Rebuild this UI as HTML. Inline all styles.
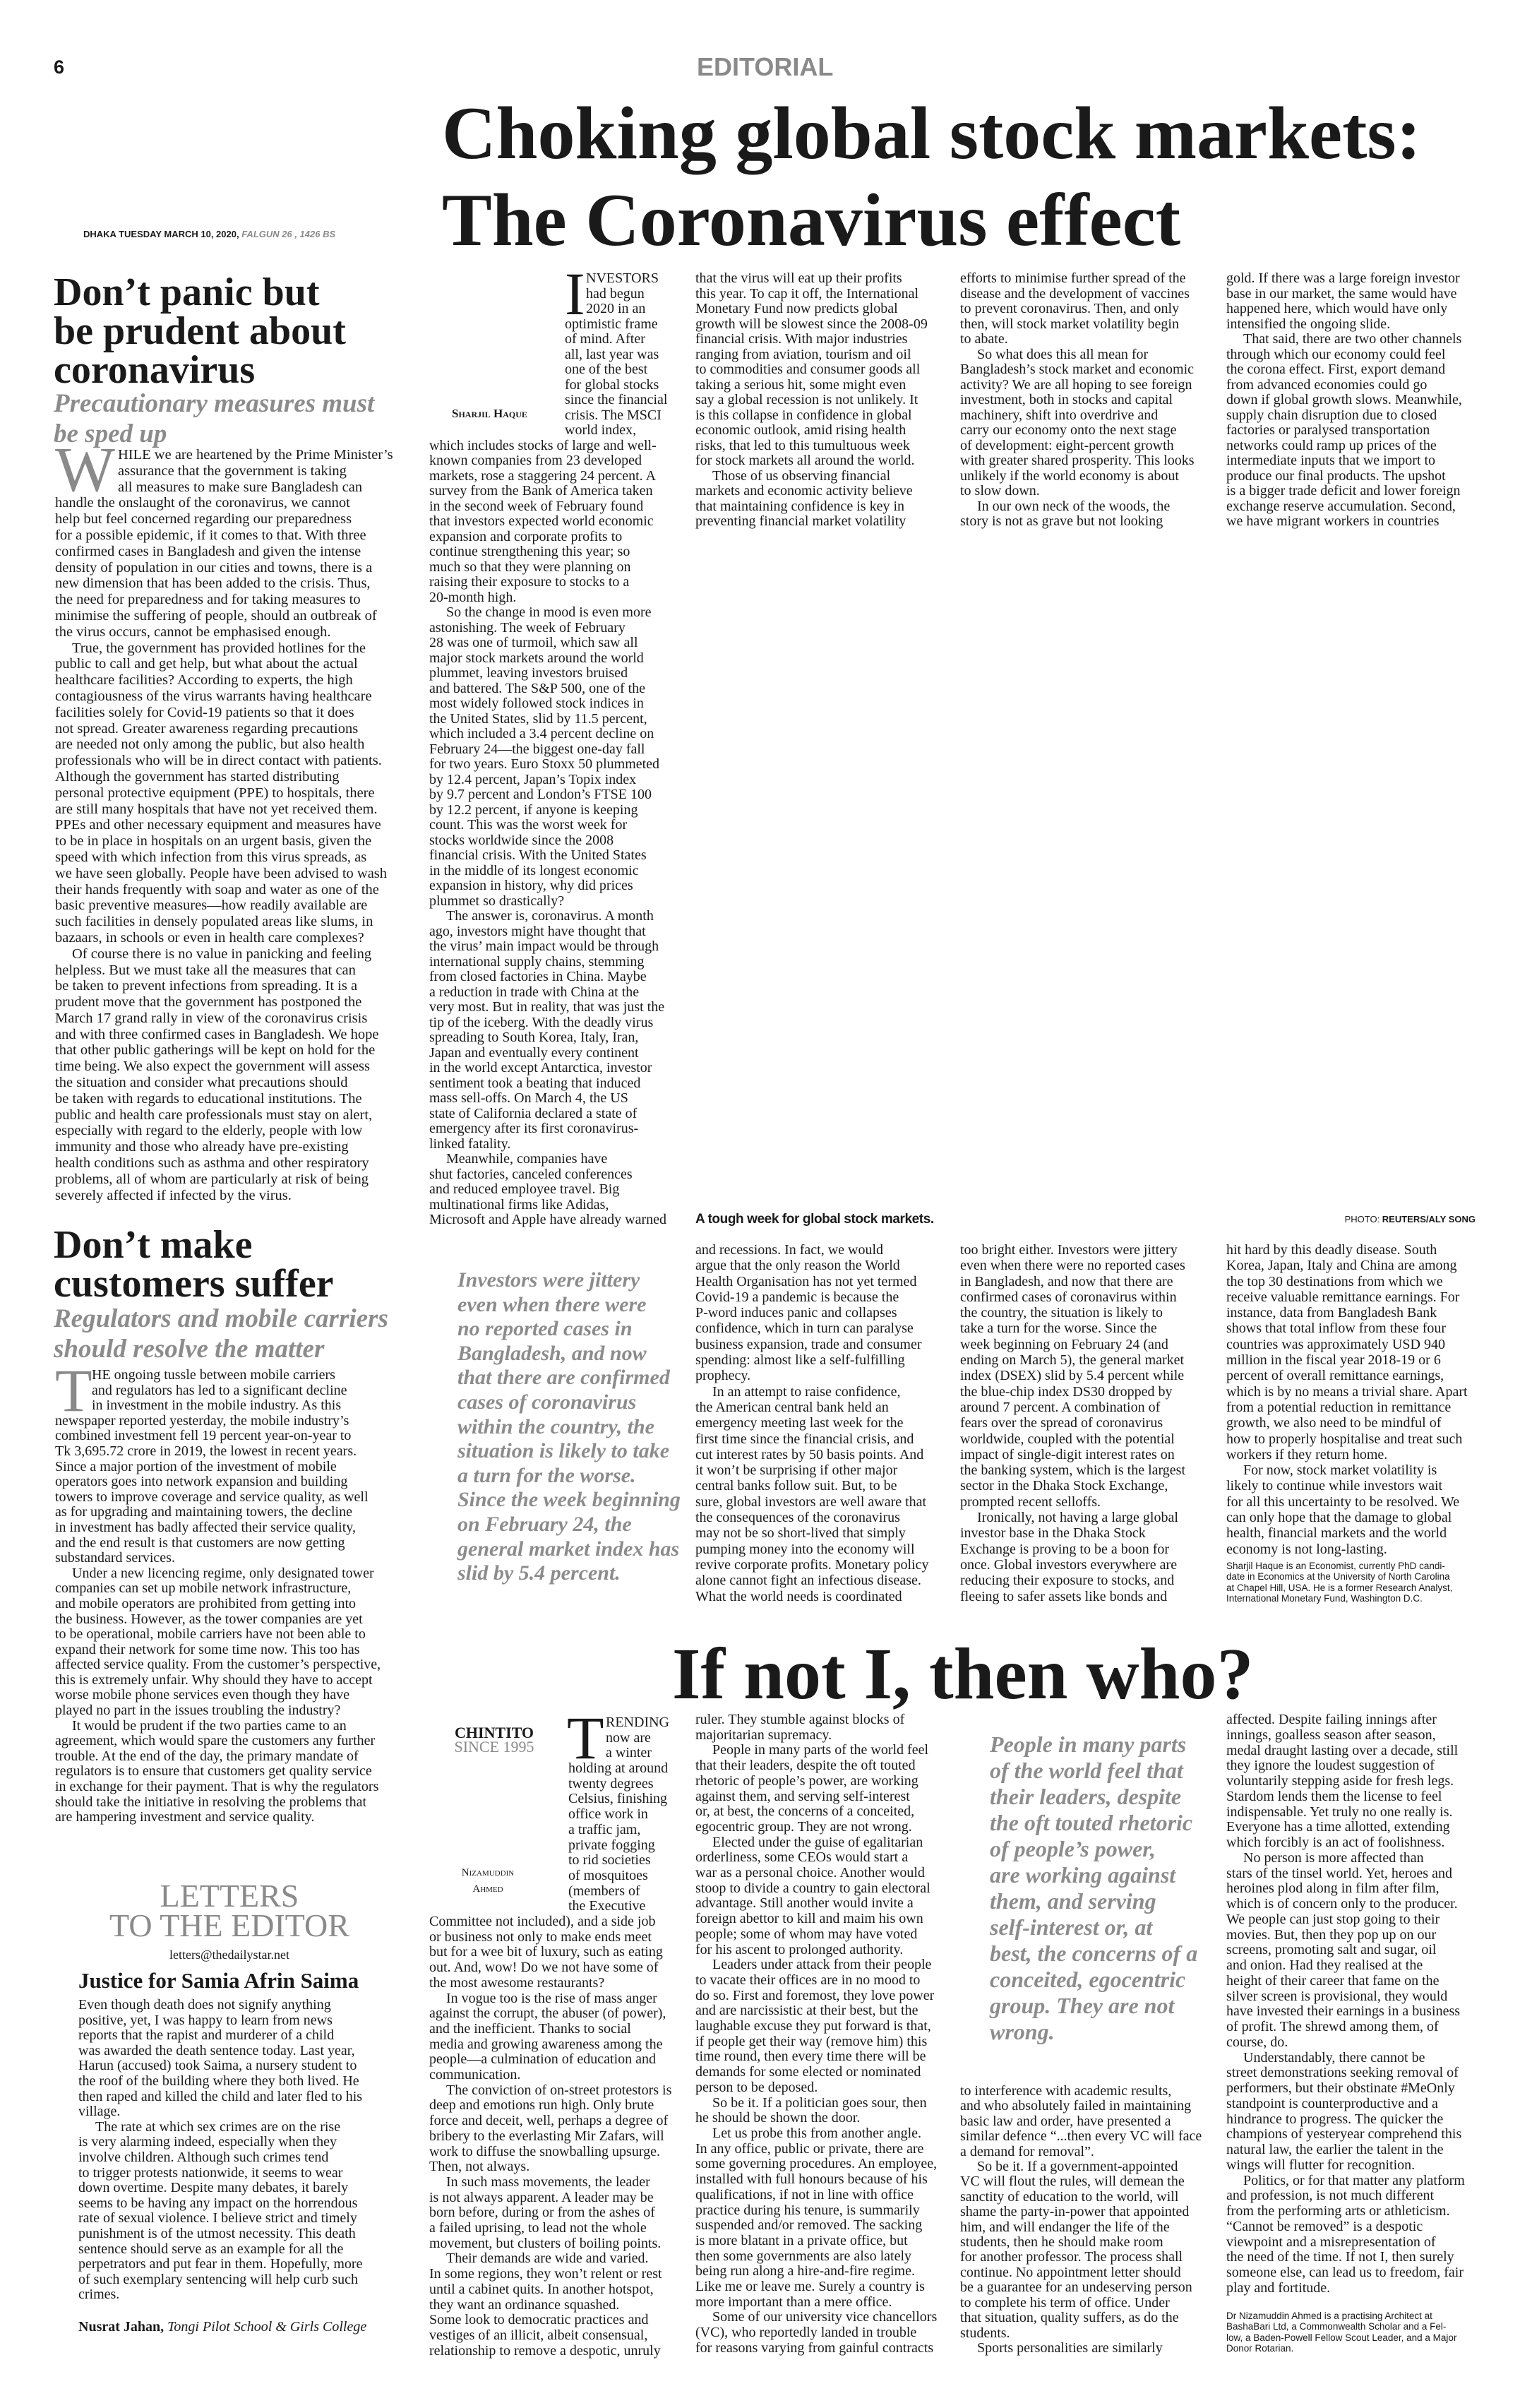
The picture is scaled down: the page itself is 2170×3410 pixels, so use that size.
<!DOCTYPE html>
<html><head><meta charset="utf-8">
<style>
html,body{margin:0;padding:0;background:#fff;}
body{width:2170px;height:3410px;position:relative;overflow:hidden;font-family:"Liberation Serif",serif;color:#1a1a1a;}
.a{position:absolute;white-space:nowrap;}
.t{font-size:20px;line-height:21.5px;}
.i{display:inline-block;width:24px;}
.g{color:#8a8a8a;}
.dc{position:absolute;line-height:1;}
.pq{font-style:italic;font-weight:bold;color:#8c8c8c;}
.sans{font-family:"Liberation Sans",sans-serif;}
</style></head><body>

<div class="a sans" style="left:76px;top:80px;font-size:27px;font-weight:bold;">6</div>
<div class="a sans" style="left:987px;top:77px;font-size:36px;line-height:36px;font-weight:bold;color:#8a8a8a;">EDITORIAL</div>
<div class="a" style="left:626px;top:127px;font-size:106px;line-height:123px;font-weight:bold;">Choking global stock markets:<br>The Coronavirus effect</div>
<div class="a sans" style="left:118px;top:324px;font-size:13px;font-weight:bold;">DHAKA TUESDAY MARCH 10, 2020, <span style="color:#8a8a8a;font-style:italic;">FALGUN 26 , 1426 BS</span></div>

<!-- Left editorial 1 -->
<div class="a" style="left:76px;top:387px;font-size:56px;line-height:55px;font-weight:bold;">Don’t panic but<br>be prudent about<br>coronavirus</div>
<div class="a pq" style="left:76px;top:550px;font-size:37px;line-height:43px;">Precautionary measures must<br>be sped up</div>
<div class="dc g" style="left:78px;top:621px;font-size:90px;">W</div>
<div class="a" style="left:167px;top:633px;font-size:20.5px;line-height:22.8px;">HILE we are heartened by the Prime Minister’s<br>assurance that the government is taking<br>all measures to make sure Bangladesh can</div>
<div class="a" style="left:78px;top:701.4px;font-size:20.5px;line-height:22.8px;">handle the onslaught of the coronavirus, we cannot<br>help but feel concerned regarding our preparedness<br>for a possible epidemic, if it comes to that. With three<br>confirmed cases in Bangladesh and given the intense<br>density of population in our cities and towns, there is a<br>new dimension that has been added to the crisis. Thus,<br>the need for preparedness and for taking measures to<br>minimise the suffering of people, should an outbreak of<br>the virus occurs, cannot be emphasised enough.<br><span class="i"></span>True, the government has provided hotlines for the<br>public to call and get help, but what about the actual<br>healthcare facilities? According to experts, the high<br>contagiousness of the virus warrants having healthcare<br>facilities solely for Covid-19 patients so that it does<br>not spread. Greater awareness regarding precautions<br>are needed not only among the public, but also health<br>professionals who will be in direct contact with patients.<br>Although the government has started distributing<br>personal protective equipment (PPE) to hospitals, there<br>are still many hospitals that have not yet received them.<br>PPEs and other necessary equipment and measures have<br>to be in place in hospitals on an urgent basis, given the<br>speed with which infection from this virus spreads, as<br>we have seen globally. People have been advised to wash<br>their hands frequently with soap and water as one of the<br>basic preventive measures—how readily available are<br>such facilities in densely populated areas like slums, in<br>bazaars, in schools or even in health care complexes?<br><span class="i"></span>Of course there is no value in panicking and feeling<br>helpless. But we must take all the measures that can<br>be taken to prevent infections from spreading. It is a<br>prudent move that the government has postponed the<br>March 17 grand rally in view of the coronavirus crisis<br>and with three confirmed cases in Bangladesh. We hope<br>that other public gatherings will be kept on hold for the<br>time being. We also expect the government will assess<br>the situation and consider what precautions should<br>be taken with regards to educational institutions. The<br>public and health care professionals must stay on alert,<br>especially with regard to the elderly, people with low<br>immunity and those who already have pre-existing<br>health conditions such as asthma and other respiratory<br>problems, all of whom are particularly at risk of being<br>severely affected if infected by the virus.</div>

<!-- Left editorial 2 -->
<div class="a" style="left:76px;top:1736px;font-size:56px;line-height:55px;font-weight:bold;">Don’t make<br>customers suffer</div>
<div class="a pq" style="left:76px;top:1846px;font-size:37px;line-height:43px;">Regulators and mobile carriers<br>should resolve the matter</div>
<div class="dc g" style="left:78px;top:1926px;font-size:86px;">T</div>
<div class="a t" style="left:130px;top:1937px;line-height:21.6px;">HE ongoing tussle between mobile carriers<br>and regulators has led to a significant decline<br>in investment in the mobile industry. As this</div>
<div class="a t" style="left:78px;top:2001.8px;line-height:21.6px;">newspaper reported yesterday, the mobile industry’s<br>combined investment fell 19 percent year-on-year to<br>Tk 3,695.72 crore in 2019, the lowest in recent years.<br>Since a major portion of the investment of mobile<br>operators goes into network expansion and building<br>towers to improve coverage and service quality, as well<br>as for upgrading and maintaining towers, the decline<br>in investment has badly affected their service quality,<br>and the end result is that customers are now getting<br>substandard services.<br><span class="i"></span>Under a new licencing regime, only designated tower<br>companies can set up mobile network infrastructure,<br>and mobile operators are prohibited from getting into<br>the business. However, as the tower companies are yet<br>to be operational, mobile carriers have not been able to<br>expand their network for some time now. This too has<br>affected service quality. From the customer’s perspective,<br>this is extremely unfair. Why should they have to accept<br>worse mobile phone services even though they have<br>played no part in the issues troubling the industry?<br><span class="i"></span>It would be prudent if the two parties came to an<br>agreement, which would spare the customers any further<br>trouble. At the end of the day, the primary mandate of<br>regulators is to ensure that customers get quality service<br>in exchange for their payment. That is why the regulators<br>should take the initiative in resolving the problems that<br>are hampering investment and service quality.</div>

<!-- Letters -->
<div class="a g" style="left:80px;width:490px;text-align:center;top:2664px;font-size:46px;line-height:42px;">LETTERS<br>TO THE EDITOR</div>
<div class="a" style="left:80px;width:490px;text-align:center;top:2756px;font-size:18px;line-height:24px;">letters@thedailystar.net</div>
<div class="a" style="left:111px;top:2786px;font-size:31px;line-height:38px;font-weight:bold;">Justice for Samia Afrin Saima</div>
<div class="a t" style="left:111px;top:2829px;line-height:21.6px;">Even though death does not signify anything<br>positive, yet, I was happy to learn from news<br>reports that the rapist and murderer of a child<br>was awarded the death sentence today. Last year,<br>Harun (accused) took Saima, a nursery student to<br>the roof of the building where they both lived. He<br>then raped and killed the child and later fled to his<br>village.<br><span class="i"></span>The rate at which sex crimes are on the rise<br>is very alarming indeed, especially when they<br>involve children. Although such crimes tend<br>to trigger protests nationwide, it seems to wear<br>down overtime. Despite many debates, it barely<br>seems to be having any impact on the horrendous<br>rate of sexual violence. I believe strict and timely<br>punishment is of the utmost necessity. This death<br>sentence should serve as an example for all the<br>perpetrators and put fear in them. Hopefully, more<br>of such exemplary sentencing will help curb such<br>crimes.</div>
<div class="a" style="left:111px;top:3284px;font-size:20px;line-height:22px;"><b>Nusrat Jahan,</b> <i>Tongi Pilot School &amp; Girls College</i></div>

<!-- Main article top -->
<div class="dc" style="left:800px;top:373px;font-size:86px;">I</div>
<div class="a t" style="left:830px;top:384px;">NVESTORS<br>had begun<br>2020 in an</div>
<div class="a t" style="left:800px;top:448.5px;">optimistic frame<br>of mind. After<br>all, last year was<br>one of the best<br>for global stocks<br>since the financial<br>crisis. The MSCI<br>world index,</div>
<div class="a" style="left:640px;top:576px;font-size:17px;font-variant:small-caps;font-weight:bold;">Sharjil Haque</div>
<div class="a t" style="left:608px;top:620.5px;">which includes stocks of large and well-<br>known companies from 23 developed<br>markets, rose a staggering 24 percent. A<br>survey from the Bank of America taken<br>in the second week of February found<br>that investors expected world economic<br>expansion and corporate profits to<br>continue strengthening this year; so<br>much so that they were planning on<br>raising their exposure to stocks to a<br>20-month high.<br><span class="i"></span>So the change in mood is even more<br>astonishing. The week of February<br>28 was one of turmoil, which saw all<br>major stock markets around the world<br>plummet, leaving investors bruised<br>and battered. The S&amp;P 500, one of the<br>most widely followed stock indices in<br>the United States, slid by 11.5 percent,<br>which included a 3.4 percent decline on<br>February 24—the biggest one-day fall<br>for two years. Euro Stoxx 50 plummeted<br>by 12.4 percent, Japan’s Topix index<br>by 9.7 percent and London’s FTSE 100<br>by 12.2 percent, if anyone is keeping<br>count. This was the worst week for<br>stocks worldwide since the 2008<br>financial crisis. With the United States<br>in the middle of its longest economic<br>expansion in history, why did prices<br>plummet so drastically?<br><span class="i"></span>The answer is, coronavirus. A month<br>ago, investors might have thought that<br>the virus’ main impact would be through<br>international supply chains, stemming<br>from closed factories in China. Maybe<br>a reduction in trade with China at the<br>very most. But in reality, that was just the<br>tip of the iceberg. With the deadly virus<br>spreading to South Korea, Italy, Iran,<br>Japan and eventually every continent<br>in the world except Antarctica, investor<br>sentiment took a beating that induced<br>mass sell-offs. On March 4, the US<br>state of California declared a state of<br>emergency after its first coronavirus-<br>linked fatality.<br><span class="i"></span>Meanwhile, companies have<br>shut factories, canceled conferences<br>and reduced employee travel. Big<br>multinational firms like Adidas,<br>Microsoft and Apple have already warned</div>

<div class="a t" style="left:985px;top:384px;">that the virus will eat up their profits<br>this year. To cap it off, the International<br>Monetary Fund now predicts global<br>growth will be slowest since the 2008-09<br>financial crisis. With major industries<br>ranging from aviation, tourism and oil<br>to commodities and consumer goods all<br>taking a serious hit, some might even<br>say a global recession is not unlikely. It<br>is this collapse in confidence in global<br>economic outlook, amid rising health<br>risks, that led to this tumultuous week<br>for stock markets all around the world.<br><span class="i"></span>Those of us observing financial<br>markets and economic activity believe<br>that maintaining confidence is key in<br>preventing financial market volatility</div>
<div class="a t" style="left:1360px;top:384px;">efforts to minimise further spread of the<br>disease and the development of vaccines<br>to prevent coronavirus. Then, and only<br>then, will stock market volatility begin<br>to abate.<br><span class="i"></span>So what does this all mean for<br>Bangladesh’s stock market and economic<br>activity? We are all hoping to see foreign<br>investment, both in stocks and capital<br>machinery, shift into overdrive and<br>carry our economy onto the next stage<br>of development: eight-percent growth<br>with greater shared prosperity. This looks<br>unlikely if the world economy is about<br>to slow down.<br><span class="i"></span>In our own neck of the woods, the<br>story is not as grave but not looking</div>
<div class="a t" style="left:1737px;top:384px;">gold. If there was a large foreign investor<br>base in our market, the same would have<br>happened here, which would have only<br>intensified the ongoing slide.<br><span class="i"></span>That said, there are two other channels<br>through which our economy could feel<br>the corona effect. First, export demand<br>from advanced economies could go<br>down if global growth slows. Meanwhile,<br>supply chain disruption due to closed<br>factories or paralysed transportation<br>networks could ramp up prices of the<br>intermediate inputs that we import to<br>produce our final products. The upshot<br>is a bigger trade deficit and lower foreign<br>exchange reserve accumulation. Second,<br>we have migrant workers in countries</div>

<div class="a sans" style="left:985px;top:1715px;font-size:19px;line-height:24px;font-weight:bold;letter-spacing:-0.4px;">A tough week for global stock markets.</div>
<div class="a sans" style="right:80px;top:1719px;font-size:13px;line-height:16px;">PHOTO: <b>REUTERS/ALY SONG</b></div>

<!-- lower middle -->
<div class="a pq" style="left:648px;top:1796px;font-size:30px;line-height:34.6px;">Investors were jittery<br>even when there were<br>no reported cases in<br>Bangladesh, and now<br>that there are confirmed<br>cases of coronavirus<br>within the country, the<br>situation is likely to take<br>a turn for the worse.<br>Since the week beginning<br>on February 24, the<br>general market index has<br>slid by 5.4 percent.</div>
<div class="a t" style="left:985px;top:1759px;line-height:22.3px;">and recessions. In fact, we would<br>argue that the only reason the World<br>Health Organisation has not yet termed<br>Covid-19 a pandemic is because the<br>P-word induces panic and collapses<br>confidence, which in turn can paralyse<br>business expansion, trade and consumer<br>spending: almost like a self-fulfilling<br>prophecy.<br><span class="i"></span>In an attempt to raise confidence,<br>the American central bank held an<br>emergency meeting last week for the<br>first time since the financial crisis, and<br>cut interest rates by 50 basis points. And<br>it won’t be surprising if other major<br>central banks follow suit. But, to be<br>sure, global investors are well aware that<br>the consequences of the coronavirus<br>may not be so short-lived that simply<br>pumping money into the economy will<br>revive corporate profits. Monetary policy<br>alone cannot fight an infectious disease.<br>What the world needs is coordinated</div>
<div class="a t" style="left:1360px;top:1759px;line-height:22.3px;">too bright either. Investors were jittery<br>even when there were no reported cases<br>in Bangladesh, and now that there are<br>confirmed cases of coronavirus within<br>the country, the situation is likely to<br>take a turn for the worse. Since the<br>week beginning on February 24 (and<br>ending on March 5), the general market<br>index (DSEX) slid by 5.4 percent while<br>the blue-chip index DS30 dropped by<br>around 7 percent. A combination of<br>fears over the spread of coronavirus<br>worldwide, coupled with the potential<br>impact of single-digit interest rates on<br>the banking system, which is the largest<br>sector in the Dhaka Stock Exchange,<br>prompted recent selloffs.<br><span class="i"></span>Ironically, not having a large global<br>investor base in the Dhaka Stock<br>Exchange is proving to be a boon for<br>once. Global investors everywhere are<br>reducing their exposure to stocks, and<br>fleeing to safer assets like bonds and</div>
<div class="a t" style="left:1737px;top:1759px;line-height:22.3px;">hit hard by this deadly disease. South<br>Korea, Japan, Italy and China are among<br>the top 30 destinations from which we<br>receive valuable remittance earnings. For<br>instance, data from Bangladesh Bank<br>shows that total inflow from these four<br>countries was approximately USD 940<br>million in the fiscal year 2018-19 or 6<br>percent of overall remittance earnings,<br>which is by no means a trivial share. Apart<br>from a potential reduction in remittance<br>growth, we also need to be mindful of<br>how to properly hospitalise and treat such<br>workers if they return home.<br><span class="i"></span>For now, stock market volatility is<br>likely to continue while investors wait<br>for all this uncertainty to be resolved. We<br>can only hope that the damage to global<br>health, financial markets and the world<br>economy is not long-lasting.</div>
<div class="a sans" style="left:1737px;top:2210px;font-size:13.5px;line-height:15.4px;">Sharjil Haque is an Economist, currently PhD candi-<br>date in Economics at the University of North Carolina<br>at Chapel Hill, USA. He is a former Research Analyst,<br>International Monetary Fund, Washington D.C.</div>

<!-- If not I -->
<div class="a" style="left:952px;top:2319px;font-size:104px;line-height:104px;font-weight:bold;">If not I, then who?</div>

<div class="a" style="left:600px;width:200px;text-align:center;top:2444px;font-size:22px;line-height:20px;"><b>CHINTITO</b><br><span class="g">SINCE 1995</span></div>
<div class="a" style="left:600px;width:182px;text-align:center;top:2641px;font-size:15px;line-height:23px;font-variant:small-caps;">Nizamuddin<br>Ahmed</div>

<div class="dc" style="left:803px;top:2418px;font-size:86px;">T</div>
<div class="a t" style="left:858px;top:2429px;line-height:21.7px;">RENDING<br>now are<br>a winter</div>
<div class="a t" style="left:805px;top:2494px;line-height:21.7px;">holding at around<br>twenty degrees<br>Celsius, finishing<br>office work in<br>a traffic jam,<br>private fogging<br>to rid societies<br>of mosquitoes<br>(members of<br>the Executive</div>
<div class="a t" style="left:608px;top:2711px;line-height:21.7px;">Committee not included), and a side job<br>or business not only to make ends meet<br>but for a wee bit of luxury, such as eating<br>out. And, wow! Do we not have some of<br>the most awesome restaurants?<br><span class="i"></span>In vogue too is the rise of mass anger<br>against the corrupt, the abuser (of power),<br>and the inefficient. Thanks to social<br>media and growing awareness among the<br>people—a culmination of education and<br>communication.<br><span class="i"></span>The conviction of on-street protestors is<br>deep and emotions run high. Only brute<br>force and deceit, well, perhaps a degree of<br>bribery to the everlasting Mir Zafars, will<br>work to diffuse the snowballing upsurge.<br>Then, not always.<br><span class="i"></span>In such mass movements, the leader<br>is not always apparent. A leader may be<br>born before, during or from the ashes of<br>a failed uprising, to lead not the whole<br>movement, but clusters of boiling points.<br><span class="i"></span>Their demands are wide and varied.<br>In some regions, they won’t relent or rest<br>until a cabinet quits. In another hotspot,<br>they want an ordinance squashed.<br>Some look to democratic practices and<br>vestiges of an illicit, albeit consensual,<br>relationship to remove a despotic, unruly</div>
<div class="a t" style="left:985px;top:2425px;line-height:21.7px;">ruler. They stumble against blocks of<br>majoritarian supremacy.<br><span class="i"></span>People in many parts of the world feel<br>that their leaders, despite the oft touted<br>rhetoric of people’s power, are working<br>against them, and serving self-interest<br>or, at best, the concerns of a conceited,<br>egocentric group. They are not wrong.<br><span class="i"></span>Elected under the guise of egalitarian<br>orderliness, some CEOs would start a<br>war as a personal choice. Another would<br>stoop to divide a country to gain electoral<br>advantage. Still another would invite a<br>foreign abettor to kill and maim his own<br>people; some of whom may have voted<br>for his ascent to prolonged authority.<br><span class="i"></span>Leaders under attack from their people<br>to vacate their offices are in no mood to<br>do so. First and foremost, they love power<br>and are narcissistic at their best, but the<br>laughable excuse they put forward is that,<br>if people get their way (remove him) this<br>time round, then every time there will be<br>demands for some elected or nominated<br>person to be deposed.<br><span class="i"></span>So be it. If a politician goes sour, then<br>he should be shown the door.<br><span class="i"></span>Let us probe this from another angle.<br>In any office, public or private, there are<br>some governing procedures. An employee,<br>installed with full honours because of his<br>qualifications, if not in line with office<br>practice during his tenure, is summarily<br>suspended and/or removed. The sacking<br>is more blatant in a private office, but<br>then some governments are also lately<br>being run along a hire-and-fire regime.<br>Like me or leave me. Surely a country is<br>more important than a mere office.<br><span class="i"></span>Some of our university vice chancellors<br>(VC), who reportedly landed in trouble<br>for reasons varying from gainful contracts</div>
<div class="a pq" style="left:1402px;top:2452px;font-size:32px;line-height:37px;">People in many parts<br>of the world feel that<br>their leaders, despite<br>the oft touted rhetoric<br>of people’s power,<br>are working against<br>them, and serving<br>self-interest or, at<br>best, the concerns of a<br>conceited, egocentric<br>group. They are not<br>wrong.</div>
<div class="a t" style="left:1360px;top:2951px;line-height:21.4px;">to interference with academic results,<br>and who absolutely failed in maintaining<br>basic law and order, have presented a<br>similar defence “...then every VC will face<br>a demand for removal”.<br><span class="i"></span>So be it. If a government-appointed<br>VC will flout the rules, will demean the<br>sanctity of education to the world, will<br>shame the party-in-power that appointed<br>him, and will endanger the life of the<br>students, then he should make room<br>for another professor. The process shall<br>continue. No appointment letter should<br>be a guarantee for an undeserving person<br>to complete his term of office. Under<br>that situation, quality suffers, as do the<br>students.<br><span class="i"></span>Sports personalities are similarly</div>
<div class="a t" style="left:1737px;top:2425px;line-height:21.75px;">affected. Despite failing innings after<br>innings, goalless season after season,<br>medal draught lasting over a decade, still<br>they ignore the loudest suggestion of<br>voluntarily stepping aside for fresh legs.<br>Stardom lends them the license to feel<br>indispensable. Yet truly no one really is.<br>Everyone has a time allotted, extending<br>which forcibly is an act of foolishness.<br><span class="i"></span>No person is more affected than<br>stars of the tinsel world. Yet, heroes and<br>heroines plod along in film after film,<br>which is of concern only to the producer.<br>We people can just stop going to their<br>movies. But, then they pop up on our<br>screens, promoting salt and sugar, oil<br>and onion. Had they realised at the<br>height of their career that fame on the<br>silver screen is provisional, they would<br>have invested their earnings in a business<br>of profit. The shrewd among them, of<br>course, do.<br><span class="i"></span>Understandably, there cannot be<br>street demonstrations seeking removal of<br>performers, but their obstinate #MeOnly<br>standpoint is counterproductive and a<br>hindrance to progress. The quicker the<br>champions of yesteryear comprehend this<br>natural law, the earlier the talent in the<br>wings will flutter for recognition.<br><span class="i"></span>Politics, or for that matter any platform<br>and profession, is not much different<br>from the performing arts or athleticism.<br>“Cannot be removed” is a despotic<br>viewpoint and a misrepresentation of<br>the need of the time. If not I, then surely<br>someone else, can lead us to freedom, fair<br>play and fortitude.</div>
<div class="a sans" style="left:1737px;top:3272px;font-size:13.5px;line-height:15.4px;">Dr Nizamuddin Ahmed is a practising Architect at<br>BashaBari Ltd, a Commonwealth Scholar and a Fel-<br>low, a Baden-Powell Fellow Scout Leader, and a Major<br>Donor Rotarian.</div>

</body></html>
